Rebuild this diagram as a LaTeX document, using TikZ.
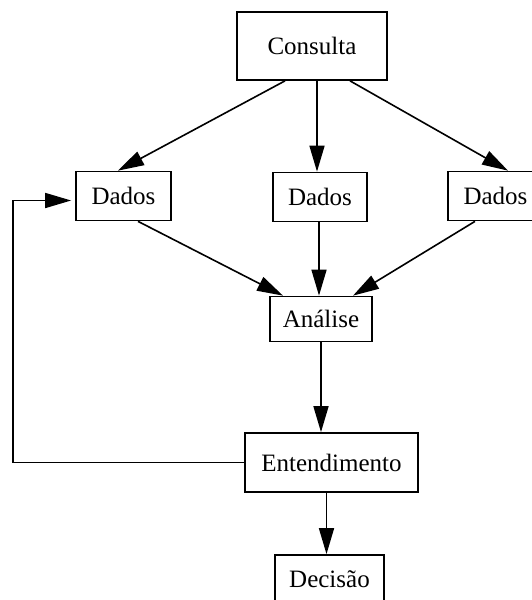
\documentclass[tikz,border=0pt]{standalone}
\usepackage{fontspec}
\setmainfont{Liberation Serif}
\usetikzlibrary{arrows.meta}
\begin{document}
\begin{tikzpicture}[x=1pt,y=-1pt,
  box/.style={draw,line width=1.7pt,inner sep=0pt,font=\fontsize{25}{30}\selectfont},
  arr/.style={line width=1.6pt,-{Triangle[length=26pt,width=15pt]}}]
\useasboundingbox (0,0) rectangle (532,600);
\clip (0,0) rectangle (532,600);
\node[box,minimum width=150pt,minimum height=68pt] (consulta) at (312,46) {Consulta};
\node[box,minimum width=95pt,minimum height=49pt] (dadosA) at (123.5,196) {Dados};
\node[box,minimum width=94pt,minimum height=49pt] (dadosB) at (320,197) {Dados};
\node[box,minimum width=95pt,minimum height=49pt] (dadosC) at (495.5,196) {Dados};
\node[box,minimum width=102pt,minimum height=45pt] (analise) at (321,319) {Análise};
\node[box,minimum width=173pt,minimum height=59pt] (entend) at (331.5,462.5) {Entendimento};
\node[box,minimum width=109pt,minimum height=48pt] (decisao) at (329.5,579) {Decisão};
\coordinate (loop) at (13,463);
\draw[arr] ([xshift=-27pt]consulta.south) -- ([xshift=-5.5pt]dadosA.north);
\draw[arr] ([xshift=5pt]consulta.south) -- ([xshift=-3pt]dadosB.north);
\draw[arr] ([xshift=38pt]consulta.south) -- ([xshift=12.5pt]dadosC.north);
\draw[arr] ([xshift=14.5pt]dadosA.south) -- ([xshift=-38pt]analise.north);
\draw[arr] ([xshift=-1pt]dadosB.south) -- ([xshift=-2pt]analise.north);
\draw[arr] ([xshift=-20.5pt]dadosC.south) -- ([xshift=32pt]analise.north);
\draw[arr] (analise.south) -- (analise.south |- entend.north);
\draw[arr] ([xshift=-3pt]decisao.north |- entend.south) -- ([xshift=-3pt]decisao.north);
\draw[arr,shorten >=4pt] (entend.west) -- (entend.west -| loop) |- ([yshift=-4.5pt]dadosA.west);
\end{tikzpicture}
\end{document}
